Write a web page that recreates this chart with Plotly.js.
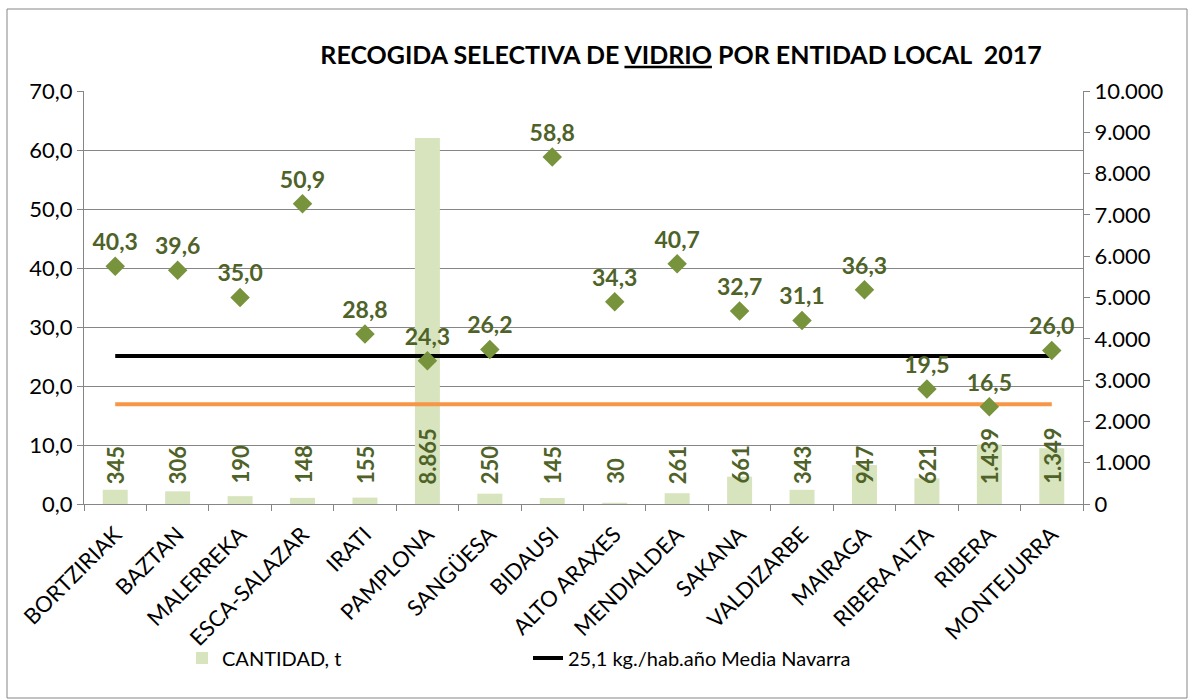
<!DOCTYPE html>
<html>
<head>
<meta charset="utf-8">
<script src="https://cdn.plot.ly/plotly-3.0.1.min.js"></script>
<style>html,body{margin:0;padding:0;background:#fff;}#chart{width:1198px;height:700px;}</style>
</head>
<body>
<div id="chart"></div>
<script>
const categories = ["BORTZIRIAK","BAZTAN","MALERREKA","ESCA-SALAZAR","IRATI","PAMPLONA","SANGÜESA","BIDAUSI","ALTO ARAXES","MENDIALDEA","SAKANA","VALDIZARBE","MAIRAGA","RIBERA ALTA","RIBERA","MONTEJURRA"];
const cantidad = [345,306,190,148,155,8865,250,145,30,261,661,343,947,621,1439,1349];
const kgHab = [40.3,39.6,35.0,50.9,28.8,24.3,26.2,58.8,34.3,40.7,32.7,31.1,36.3,19.5,16.5,26.0];
const mediaNavarra = 25.1;
const otraMedia = 16.9;
const leftTicks = [0,10,20,30,40,50,60,70];
const rightTicks = [0,1000,2000,3000,4000,5000,6000,7000,8000,9000,10000];

const FONT = "Lato, 'Open Sans', sans-serif";
const LABEL_GREEN = "#4F6228";

function fmtThousands(v){ return v.toString().replace(/\B(?=(\d{3})+(?!\d))/g, "."); }
function fmtDec(v){ return v.toFixed(1).replace(".", ","); }

// bars on the right-hand axis (yaxis), kg/hab series on the left-hand overlay (yaxis2)
const traces = [
  {type:"bar", name:"CANTIDAD, t", x:categories, y:cantidad, yaxis:"y",
   marker:{color:"#D7E4BD"}, hoverinfo:"x+y"},
  {type:"scatter", mode:"lines", name:"25,1 kg./hab.año Media Navarra", x:categories, yaxis:"y2",
   y:categories.map(()=>mediaNavarra), line:{color:"#000000", width:4}},
  {type:"scatter", mode:"lines", name:"media", showlegend:false, x:categories, yaxis:"y2",
   y:categories.map(()=>otraMedia), line:{color:"#F79646", width:4}},
  {type:"scatter", mode:"markers+text", name:"kg/hab", showlegend:false, x:categories, y:kgHab, yaxis:"y2",
   marker:{symbol:"diamond", size:15, color:"#77933C"},
   text:kgHab.map(fmtDec), textposition:"top center",
   textfont:{family:FONT, size:23, color:LABEL_GREEN, weight:"bold"}}
];

const annotations = categories.map((c,i)=>({
  x:c, y:0, xref:"x", yref:"y", yshift:18, yanchor:"bottom", xanchor:"center",
  text:"<b>"+fmtThousands(cantidad[i])+"</b>", textangle:-90, showarrow:false,
  font:{family:FONT, size:22, color:LABEL_GREEN}
}));

const L=84, R=1083, T=91, B=504, W=1198, H=700;
const pw=R-L, ph=B-T;
const px = v => (v-L)/pw;
const py = v => (B-v)/ph;

const layout = {
  width:W, height:H,
  margin:{l:L, r:W-R, t:T, b:H-B, pad:0},
  paper_bgcolor:"#ffffff", plot_bgcolor:"#ffffff",
  font:{family:FONT, size:22, color:"#000"},
  separators:",.",
  showlegend:true,
  title:{text:"<b>RECOGIDA SELECTIVA DE <u>VIDRIO</u> POR ENTIDAD LOCAL  2017</b>",
         font:{family:FONT, size:25, color:"#000"}, x:681/W, xanchor:"center", y:1-55/H, yanchor:"middle"},
  bargap:0.6,
  xaxis:{type:"category", range:[-0.5,15.5], autorange:false, tickson:"boundaries", ticks:"outside", ticklen:6, tickcolor:"#868686",
         showline:true, linecolor:"#868686", linewidth:1, tickangle:-45, ticklabelstandoff:8,
         tickfont:{family:FONT, size:22, color:"#000"}, showgrid:false, zeroline:false},
  yaxis:{range:[0,10000], autorange:false, tickvals:rightTicks, tickformat:",d", side:"right",
         ticks:"outside", ticklen:6, tickcolor:"#868686", showline:true, linecolor:"#868686",
         showgrid:false, zeroline:false, tickfont:{family:FONT, size:22, color:"#000"}},
  yaxis2:{range:[0,70], autorange:false, tickvals:leftTicks, tickformat:".1f", overlaying:"y", side:"left",
          ticks:"outside", ticklen:6, tickcolor:"#868686",
          showline:true, linecolor:"#868686", showgrid:true, gridcolor:"#868686", gridwidth:1, zeroline:false,
          tickfont:{family:FONT, size:22, color:"#000"}},
  legend:{orientation:"h", x:px(182), xanchor:"left", y:py(658), yanchor:"middle",
          font:{family:FONT, size:20, color:"#000"}, entrywidth:301, entrywidthmode:"pixels",
          bgcolor:"rgba(0,0,0,0)", traceorder:"normal"},
  annotations:annotations,
  shapes:[{type:"rect", xref:"paper", yref:"paper", x0:px(7), x1:px(1187), y0:py(698), y1:py(9),
           line:{color:"#868686", width:1}, fillcolor:"rgba(0,0,0,0)", layer:"below"}]
};

Plotly.newPlot("chart", traces, layout, {staticPlot:true, displayModeBar:false});
</script>
</body>
</html>
